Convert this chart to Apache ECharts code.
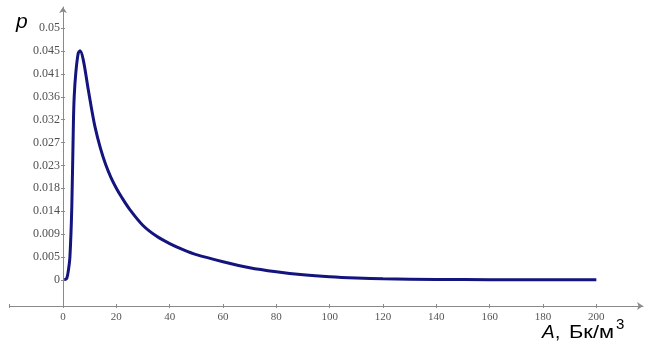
<!DOCTYPE html>
<html>
<head>
<meta charset="utf-8">
<script src="https://cdn.jsdelivr.net/npm/echarts@6/dist/echarts.min.js"></script>
<style>
html,body{margin:0;padding:0;background:#fff;}
#chart{width:651px;height:352px;}
</style>
</head>
<body>
<div id="chart"></div>
<script>
// Data
var seriesA = [0.5, 1.4, 2.0, 2.6, 3.3, 3.9, 4.2, 4.8, 5.7, 6.4, 7.6, 9.5, 10.7, 12, 14, 16, 18, 20, 22, 25, 30, 35, 40, 45, 50, 60, 70, 80, 90, 100, 110, 120, 140, 160, 180, 200];
var seriesP = [0, 0.0003, 0.0018, 0.0046, 0.0145, 0.0312, 0.0364, 0.0411, 0.0450, 0.0455, 0.0437, 0.0377, 0.0340, 0.0304, 0.0262, 0.0229, 0.0203, 0.0182, 0.0164, 0.0140, 0.0108, 0.0087, 0.0072, 0.0060, 0.0050, 0.0036, 0.0024, 0.0016, 0.0010, 0.0006, 0.00035, 0.0002, 0.00008, 0.00003, 0.00001, 0];
var xTickValues = [-20, 0, 20, 40, 60, 80, 100, 120, 140, 160, 180, 200];
var xLabelValues = [0, 20, 40, 60, 80, 100, 120, 140, 160, 180, 200];
var yTickValues = [0, 0.004545, 0.009091, 0.013636, 0.018182, 0.022727, 0.027273, 0.031818, 0.036364, 0.040909, 0.045455, 0.05];
var yTickLabels = ['0', '0.005', '0.009', '0.014', '0.018', '0.023', '0.027', '0.032', '0.036', '0.041', '0.045', '0.05'];
var yAxisTitle = 'p';
var xAxisTitleVar = 'A';
var xAxisTitleComma = ',';
var xAxisTitleUnit = 'Бк/м';
var xAxisTitleSup = '3';

var pts = seriesA.map(function (a, i) { return [a, seriesP[i]]; });

var axisColor = '#8a8a8a';
var gridLeft = 9.67;
var yAxisShift = -53.33; // y axis sits at A = 0

function yLabel(v) {
  for (var i = 0; i < yTickValues.length; i++) {
    if (Math.abs(yTickValues[i] - v) < 1e-6) return yTickLabels[i];
  }
  return '';
}

var chart = echarts.init(document.getElementById('chart'), null, {renderer: 'canvas'});
chart.setOption({
  animation: false,
  backgroundColor: '#fff',
  grid: {left: gridLeft, right: 8, top: 7, bottom: 46, containLabel: false, outerBoundsMode: 'none'},
  xAxis: [{
    type: 'value', min: -20, max: 217.5,
    splitLine: {show: false},
    axisLine: {onZero: false, symbol: ['none', 'arrow'], symbolSize: [6, 6], lineStyle: {color: axisColor, width: 1}},
    axisTick: {show: true, length: 2, customValues: xTickValues, lineStyle: {color: axisColor}},
    axisLabel: {customValues: xLabelValues, margin: 6, fontFamily: 'Liberation Serif', fontSize: 11, color: '#555'}
  }, {
    type: 'value', min: -20, max: 217.5, position: 'bottom',
    splitLine: {show: false},
    axisLine: {show: false, onZero: false},
    axisTick: {show: true, inside: true, length: 2, customValues: xTickValues, lineStyle: {color: axisColor}},
    axisLabel: {show: false}
  }],
  yAxis: [{
    type: 'value', min: -0.0052, max: 0.0542, position: 'left', offset: yAxisShift,
    splitLine: {show: false},
    axisLine: {onZero: false, symbol: ['none', 'arrow'], symbolSize: [6, 6], lineStyle: {color: axisColor, width: 1}},
    axisTick: {show: true, length: 2, customValues: yTickValues, lineStyle: {color: axisColor}},
    axisLabel: {customValues: yTickValues, margin: 3, formatter: yLabel, fontFamily: 'Liberation Serif', fontSize: 12, color: '#505050'}
  }, {
    type: 'value', min: -0.0052, max: 0.0542, position: 'left', offset: yAxisShift,
    splitLine: {show: false},
    axisLine: {show: false, onZero: false},
    axisTick: {show: true, inside: true, length: 2, customValues: yTickValues, lineStyle: {color: axisColor}},
    axisLabel: {show: false}
  }],
  graphic: [
    {type: 'text', x: 16, y: 22, style: {text: yAxisTitle, fontFamily: 'Liberation Sans', fontStyle: 'italic', fontSize: 21, fill: '#000', verticalAlign: 'middle'}},
    {type: 'text', x: 542, y: 333, style: {text: xAxisTitleVar, fontFamily: 'Liberation Sans', fontStyle: 'italic', fontSize: 19, fill: '#000', verticalAlign: 'middle'}},
    {type: 'text', x: 555, y: 333, style: {text: xAxisTitleComma, fontFamily: 'Liberation Sans', fontSize: 19, fill: '#000', verticalAlign: 'middle'}},
    {type: 'text', x: 569, y: 333, scaleX: 1.15, originX: 0, originY: 0, style: {text: xAxisTitleUnit, fontFamily: 'Liberation Sans', fontSize: 19, fill: '#000', verticalAlign: 'middle'}},
    {type: 'text', x: 616, y: 325, style: {text: xAxisTitleSup, fontFamily: 'Liberation Sans', fontSize: 15, fill: '#000', verticalAlign: 'middle'}}
  ],
  series: [{
    type: 'line', xAxisIndex: 0, yAxisIndex: 0,
    data: pts, showSymbol: false, symbol: 'none',
    smooth: 0.3,
    lineStyle: {color: '#14147e', width: 3}
  }]
});
</script>
</body>
</html>
